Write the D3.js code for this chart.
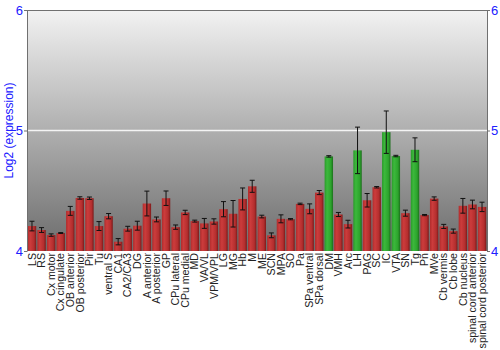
<!DOCTYPE html>
<html>
<head>
<meta charset="utf-8">
<script src="https://cdn.jsdelivr.net/npm/d3@7"></script>
<style>
body { margin:0; background:#fff; }
svg { display:block; font-family: "Liberation Sans", Arial, sans-serif; }
</style>
</head>
<body>
<div id="chart"></div>
<script>
//******************************************************************************
//**  Data
//******************************************************************************
var regions = ["LS","RS","Cx motor","Cx cingulate","OB anterior","OB posterior","Pir","Tu",
  "ventral S","CA1","CA2/CA3","DG","A anterior","A posterior","GP","CPu lateral","CPu medial",
  "MD","VA/VL","VPM/VPL","LG","MG","Hb","M","ME","SCN","MPA","SO","Pa","SPa ventral",
  "SPa dorsal","DM","VMH","Arc","LH","PAG","SC","IC","VTA","SN","Tg","Pn","MVe",
  "Cb vermis","Cb lobe","Cb nucleus","spinal cord anterior","spinal cord posterior"];

var values = [4.207,4.174,4.132,4.149,4.333,4.440,4.438,4.207,
  4.289,4.077,4.185,4.210,4.394,4.262,4.438,4.198,4.320,
  4.248,4.229,4.245,4.347,4.309,4.432,4.537,4.286,4.130,4.267,4.264,4.391,4.350,
  4.485,4.785,4.303,4.223,4.835,4.421,4.529,4.986,4.788,4.314,4.840,4.298,4.435,
  4.204,4.165,4.375,4.386,4.366];

var errors = [0.040,0.020,0.010,0.004,0.037,0.010,0.010,0.037,
  0.022,0.026,0.020,0.037,0.103,0.020,0.060,0.018,0.018,
  0.008,0.041,0.022,0.063,0.110,0.091,0.050,0.011,0.020,0.033,0.005,0.006,0.041,
  0.017,0.006,0.017,0.032,0.193,0.056,0.006,0.176,0.006,0.025,0.099,0.005,0.014,
  0.017,0.017,0.061,0.036,0.039];

var highlighted = ["DM","LH","IC","VTA","Tg"];

var yTicks = [4, 5, 6];


//******************************************************************************
//**  Chart
//******************************************************************************
var width = 500, height = 350;
var margin = {top: 10, right: 13, bottom: 99, left: 27};
var plotW = width - margin.left - margin.right;
var plotH = height - margin.top - margin.bottom;

var svg = d3.select("#chart").append("svg")
    .attr("width", width)
    .attr("height", height);

var defs = svg.append("defs");

  // background gradient
var bg = defs.append("linearGradient")
    .attr("id", "bg").attr("x1", 0).attr("y1", 0).attr("x2", 0).attr("y2", 1);
bg.append("stop").attr("offset", "0%").attr("stop-color", "#f2f2f2");
bg.append("stop").attr("offset", "100%").attr("stop-color", "#6c6c6c");

  // bar gradients (horizontal shading)
var addBarGradient = function(id, c0, c1, c2, c3){
    var g = defs.append("linearGradient")
        .attr("id", id).attr("x1", 0).attr("y1", 0).attr("x2", 1).attr("y2", 0);
    g.append("stop").attr("offset", "0%").attr("stop-color", c0);
    g.append("stop").attr("offset", "30%").attr("stop-color", c1);
    g.append("stop").attr("offset", "75%").attr("stop-color", c2);
    g.append("stop").attr("offset", "100%").attr("stop-color", c3);
};
addBarGradient("barRed", "#b02c2c", "#cc3c3c", "#b42e2e", "#7c1a1a");
addBarGradient("barGreen", "#2a9a2a", "#3cb83c", "#2ca42c", "#1c6e1c");

var g = svg.append("g")
    .attr("transform", "translate(" + margin.left + "," + margin.top + ")");

var x = d3.scaleBand()
    .domain(regions)
    .range([0, plotW])
    .paddingInner(0.12)
    .paddingOuter(0.08);

var y = d3.scaleLinear()
    .domain([4, 6])
    .range([plotH, 0]);

g.append("rect")
    .attr("width", plotW)
    .attr("height", plotH)
    .attr("fill", "url(#bg)");

  // gridline at 5
g.append("line")
    .attr("x1", 0).attr("x2", plotW)
    .attr("y1", y(5)).attr("y2", y(5))
    .attr("stroke", "#f4f4f4")
    .attr("stroke-width", 1.5);

  // top border
g.append("line")
    .attr("x1", 0).attr("x2", plotW)
    .attr("y1", 0.5).attr("y2", 0.5)
    .attr("stroke", "#707070");

  // bars
g.selectAll(".bar")
    .data(regions)
    .enter()
    .append("rect")
    .attr("class", "bar")
    .attr("x", function(d){ return x(d); })
    .attr("width", x.bandwidth())
    .attr("y", function(d, i){ return y(values[i]); })
    .attr("height", function(d, i){ return plotH - y(values[i]); })
    .attr("fill", function(d){
        return highlighted.indexOf(d) > -1 ? "url(#barGreen)" : "url(#barRed)";
    });

  // error bars
var err = g.selectAll(".err")
    .data(regions)
    .enter()
    .append("g")
    .attr("class", "err")
    .attr("stroke", "#111")
    .attr("stroke-width", 1);

var cap = 2.5;
err.append("line")
    .attr("x1", function(d){ return x(d) + x.bandwidth()/2; })
    .attr("x2", function(d){ return x(d) + x.bandwidth()/2; })
    .attr("y1", function(d, i){ return y(values[i] + errors[i]); })
    .attr("y2", function(d, i){ return y(values[i] - errors[i]); });
err.append("line")
    .attr("x1", function(d){ return x(d) + x.bandwidth()/2 - cap; })
    .attr("x2", function(d){ return x(d) + x.bandwidth()/2 + cap; })
    .attr("y1", function(d, i){ return y(values[i] + errors[i]); })
    .attr("y2", function(d, i){ return y(values[i] + errors[i]); });
err.append("line")
    .attr("x1", function(d){ return x(d) + x.bandwidth()/2 - cap; })
    .attr("x2", function(d){ return x(d) + x.bandwidth()/2 + cap; })
    .attr("y1", function(d, i){ return y(values[i] - errors[i]); })
    .attr("y2", function(d, i){ return y(values[i] - errors[i]); });

  // axes
var styleAxis = function(sel){
    sel.select(".domain").attr("stroke", "#707070");
    sel.selectAll(".tick line").attr("stroke", "#707070");
    sel.selectAll(".tick text")
        .attr("fill", "#2020ff")
        .style("font-size", "13px");
};

g.append("g")
    .call(d3.axisLeft(y).tickValues(yTicks).tickFormat(d3.format("d")).tickSize(3).tickSizeOuter(0))
    .call(styleAxis)
    .selectAll(".tick text").attr("x", -4);

g.append("g")
    .attr("transform", "translate(" + plotW + ",0)")
    .call(d3.axisRight(y).tickValues(yTicks).tickFormat(d3.format("d")).tickSize(3).tickSizeOuter(0))
    .call(styleAxis)
    .selectAll(".tick text").attr("x", 4);

var xAxis = g.append("g")
    .attr("transform", "translate(0," + plotH + ")")
    .call(d3.axisBottom(x).tickSize(0));
xAxis.select(".domain").remove();
xAxis.selectAll(".tick text")
    .attr("transform", "rotate(-90)")
    .attr("x", -2)
    .attr("y", 0)
    .attr("dy", "0.35em")
    .attr("text-anchor", "end")
    .attr("fill", "#222")
    .style("font-size", "10.6px");

  // y label
svg.append("text")
    .attr("transform", "translate(13," + (margin.top + plotH/2) + ") rotate(-90)")
    .attr("text-anchor", "middle")
    .attr("fill", "#2020ff")
    .style("font-size", "12px")
    .text("Log2 (expression)");
</script>
</body>
</html>
